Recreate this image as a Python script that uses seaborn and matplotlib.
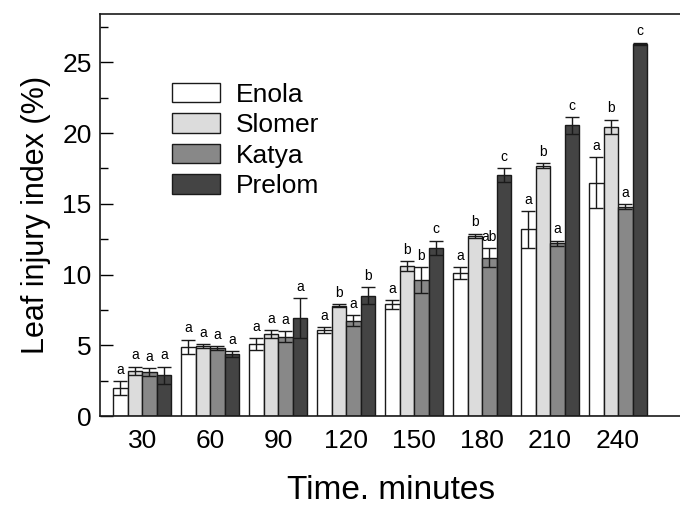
import numpy as np
import pandas as pd
import seaborn as sns
import matplotlib
matplotlib.use("Agg")
import matplotlib.pyplot as plt
from matplotlib.ticker import MultipleLocator

times = ["30", "60", "90", "120", "150", "180", "210", "240"]
cultivars = ["Enola", "Slomer", "Katya", "Prelom"]

enola = [2.0, 4.9, 5.1, 6.1, 7.9, 10.1, 13.2, 16.5]
slomer = [3.2, 4.95, 5.8, 7.8, 10.6, 12.75, 17.7, 20.45]
katya = [3.1, 4.8, 5.6, 6.75, 9.6, 11.2, 12.2, 14.8]
prelom = [2.9, 4.4, 6.95, 8.5, 11.9, 17.05, 20.55, 26.3]

enola_err = [0.5, 0.5, 0.4, 0.2, 0.3, 0.4, 1.3, 1.8]
slomer_err = [0.3, 0.15, 0.25, 0.1, 0.35, 0.15, 0.2, 0.5]
katya_err = [0.3, 0.15, 0.4, 0.4, 0.9, 0.7, 0.2, 0.2]
prelom_err = [0.6, 0.2, 1.4, 0.6, 0.5, 0.5, 0.6, 0.1]

enola_let = ["a", "a", "a", "a", "a", "a", "a", "a"]
slomer_let = ["a", "a", "a", "b", "b", "b", "b", "b"]
katya_let = ["a", "a", "a", "a", "b", "ab", "a", "a"]
prelom_let = ["a", "a", "a", "b", "c", "c", "c", "c"]

means = [enola, slomer, katya, prelom]
errs = [enola_err, slomer_err, katya_err, prelom_err]
letters = [enola_let, slomer_let, katya_let, prelom_let]

df = pd.DataFrame({
    "time": times * 4,
    "cultivar": np.repeat(cultivars, len(times)),
    "value": np.concatenate(means),
})

colors = ["#ffffff", "#dcdcdc", "#888888", "#444444"]

sns.set_style("ticks")
plt.rcParams["font.family"] = ["Liberation Sans", "DejaVu Sans"]
plt.rcParams["text.color"] = "black"
plt.rcParams["axes.labelcolor"] = "black"
plt.rcParams["xtick.color"] = "black"
plt.rcParams["ytick.color"] = "black"

fig = plt.figure(figsize=(6.8, 5.08), dpi=100)
ax = fig.add_axes([0.147, 0.181, 0.856, 0.791])

sns.barplot(data=df, x="time", y="value", hue="cultivar", order=times,
            hue_order=cultivars, palette=colors, width=0.85, gap=0,
            errorbar=None, edgecolor="#1a1a1a", linewidth=1.0, saturation=1,
            ax=ax)

for cont, m, e, lets in zip(ax.containers, means, errs, letters):
    xs = [p.get_x() + p.get_width() / 2 for p in cont.patches]
    ax.errorbar(xs, m, yerr=e, fmt="none", ecolor="#1a1a1a", elinewidth=1.0,
                capsize=5, capthick=1.0)
    for x, v, er, t in zip(xs, m, e, lets):
        ax.annotate(t, (x, v + er), xytext=(0, 3), textcoords="offset points",
                    ha="center", va="bottom", fontsize=10)

ax.set_xlim(-0.62, 7.94)
ax.set_ylim(0, 28.4)
ax.yaxis.set_major_locator(MultipleLocator(5))
ax.yaxis.set_minor_locator(MultipleLocator(2.5))
ax.tick_params(axis="y", which="major", direction="in", length=9, width=1,
               labelsize=19, pad=6)
ax.tick_params(axis="y", which="minor", direction="in", length=6, width=1)
ax.tick_params(axis="x", length=0, labelsize=19, pad=9)
for s in ax.spines.values():
    s.set_linewidth(1.2)
    s.set_color("#1a1a1a")

ax.set_xlabel("Time. minutes", fontsize=24, labelpad=16)
ax.set_ylabel("Leaf injury index (%)", fontsize=22, labelpad=8)

ax.legend(loc="upper left", bbox_to_anchor=(0.124, 0.83), frameon=False,
          fontsize=19, handlelength=1.8, handleheight=0.75, handletextpad=0.6,
          labelspacing=0.25, borderpad=0, borderaxespad=0)

fig.savefig("out.png", dpi=100)
